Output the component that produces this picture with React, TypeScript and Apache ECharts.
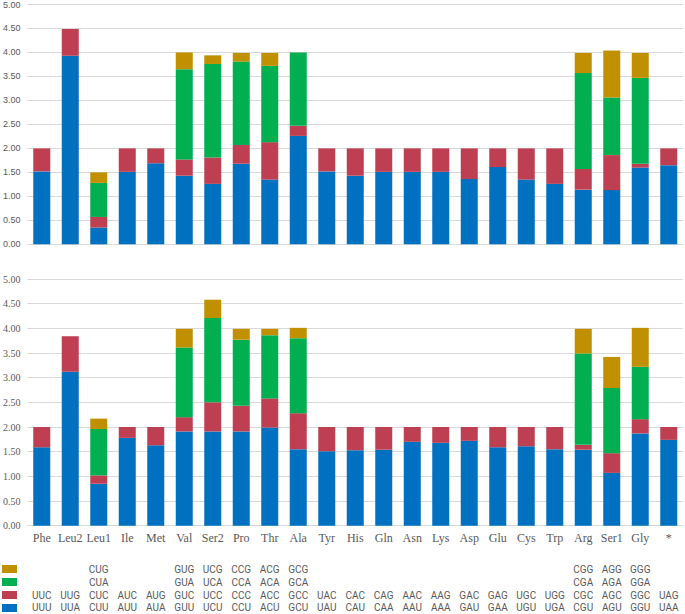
import React, { useEffect, useRef } from "react";
import * as echarts from "echarts";

const categories = ["Phe", "Leu2", "Leu1", "Ile", "Met", "Val", "Ser2", "Pro", "Thr", "Ala", "Tyr", "His", "Gln", "Asn", "Lys", "Asp", "Glu", "Cys", "Trp", "Arg", "Ser1", "Gly", "*"];

const yTicks = [0, 0.5, 1, 1.5, 2, 2.5, 3, 3.5, 4, 4.5, 5];

// Top chart (RSCU) per codon position
const top1 = [1.52, 3.93, 0.35, 1.51, 1.69, 1.43, 1.26, 1.68, 1.35, 2.26, 1.52, 1.43, 1.51, 1.51, 1.51, 1.36, 1.61, 1.35, 1.26, 1.14, 1.13, 1.60, 1.65];
const top2 = [0.48, 0.56, 0.22, 0.49, 0.31, 0.34, 0.55, 0.39, 0.78, 0.21, 0.48, 0.57, 0.49, 0.49, 0.49, 0.64, 0.39, 0.65, 0.74, 0.43, 0.73, 0.08, 0.35];
const top3 = [null, null, 0.71, null, null, 1.88, 1.95, 1.74, 1.59, 1.53, null, null, null, null, null, null, null, null, null, 2.00, 1.20, 1.79, null];
const top4 = [null, null, 0.22, null, null, 0.35, 0.18, 0.18, 0.27, null, null, null, null, null, null, null, null, null, null, 0.42, 0.98, 0.52, null];

// Bottom chart
const bot1 = [1.59, 3.12, 0.85, 1.78, 1.63, 1.91, 1.91, 1.91, 1.99, 1.55, 1.51, 1.53, 1.54, 1.70, 1.68, 1.72, 1.59, 1.61, 1.55, 1.54, 1.07, 1.87, 1.74];
const bot2 = [0.41, 0.72, 0.17, 0.22, 0.37, 0.29, 0.59, 0.52, 0.59, 0.73, 0.49, 0.47, 0.46, 0.30, 0.32, 0.28, 0.41, 0.39, 0.45, 0.10, 0.40, 0.29, 0.26];
const bot3 = [null, null, 0.94, null, null, 1.41, 1.71, 1.34, 1.28, 1.52, null, null, null, null, null, null, null, null, null, 1.85, 1.32, 1.06, null];
const bot4 = [null, null, 0.21, null, null, 0.38, 0.37, 0.22, 0.13, 0.21, null, null, null, null, null, null, null, null, null, 0.50, 0.63, 0.79, null];

// Codon table rows
const codon1 = ["UUU", "UUA", "CUU", "AUU", "AUA", "GUU", "UCU", "CCU", "ACU", "GCU", "UAU", "CAU", "CAA", "AAU", "AAA", "GAU", "GAA", "UGU", "UGA", "CGU", "AGU", "GGU", "UAA"];
const codon2 = ["UUC", "UUG", "CUC", "AUC", "AUG", "GUC", "UCC", "CCC", "ACC", "GCC", "UAC", "CAC", "CAG", "AAC", "AAG", "GAC", "GAG", "UGC", "UGG", "CGC", "AGC", "GGC", "UAG"];
const codon3 = ["", "", "CUA", "", "", "GUA", "UCA", "CCA", "ACA", "GCA", "", "", "", "", "", "", "", "", "", "CGA", "AGA", "GGA", ""];
const codon4 = ["", "", "CUG", "", "", "GUG", "UCG", "CCG", "ACG", "GCG", "", "", "", "", "", "", "", "", "", "CGG", "AGG", "GGG", ""];

const seriesNames = ["c1", "c2", "c3", "c4"];
const colors = ["#0070C0", "#BE3F52", "#00B050", "#C09000"];

export default function App() {
  const ref = useRef<HTMLDivElement>(null);
  useEffect(() => {
    if (!ref.current) return;
    const chart = echarts.init(ref.current, undefined, { renderer: "svg" });
    const gridColor = "#D9D9D9";
    const left = 27;
    const right = 2;
    const codonRows = [codon4, codon3, codon2, codon1];
    const codonCenters = [569.7, 582.5, 595.8, 607.8];
    const axisBottomY = 525.7;

    const yAxisBase = (font: string, size: number) => ({
      type: "value",
      min: 0,
      max: 5,
      interval: 0.5,
      axisLine: { show: false },
      axisTick: { show: false },
      splitLine: { lineStyle: { color: gridColor, width: 1 } },
      axisLabel: {
        formatter: (v: number) => v.toFixed(2),
        color: "#595959",
        fontFamily: font,
        fontSize: size,
        margin: 7,
        customValues: yTicks,
      },
    });

    const xAxes: any[] = [
      {
        type: "category",
        gridIndex: 0,
        data: categories,
        axisLine: { lineStyle: { color: gridColor } },
        axisTick: { show: false },
        axisLabel: { show: false },
      },
      {
        type: "category",
        gridIndex: 1,
        data: categories,
        axisLine: { lineStyle: { color: gridColor } },
        axisTick: { show: false },
        axisLabel: {
          interval: 0,
          color: "#595959",
          fontFamily: "Liberation Serif",
          fontSize: 12,
          margin: 12,
          verticalAlign: "middle",
        },
      },
    ];
    codonRows.forEach((row, i) => {
      xAxes.push({
        type: "category",
        gridIndex: 1,
        position: "bottom",
        offset: codonCenters[i] - axisBottomY,
        data: row,
        axisLine: { show: false },
        axisTick: { show: false },
        splitLine: { show: false },
        axisLabel: {
          interval: 0,
          color: "#595959",
          fontFamily: "Roboto",
          fontSize: 10,
          margin: 0,
          verticalAlign: "middle",
        },
      });
    });

    const topData = [top1, top2, top3, top4];
    const botData = [bot1, bot2, bot3, bot4];
    const series: any[] = [];
    topData.forEach((d, i) => {
      series.push({
        name: seriesNames[i],
        type: "bar",
        stack: "top",
        xAxisIndex: 0,
        yAxisIndex: 0,
        barWidth: 17,
        data: d,
        itemStyle: { color: colors[i] },
      });
    });
    botData.forEach((d, i) => {
      series.push({
        name: seriesNames[i],
        type: "bar",
        stack: "bottom",
        xAxisIndex: 1,
        yAxisIndex: 1,
        barWidth: 17,
        data: d,
        itemStyle: { color: colors[i] },
      });
    });

    chart.setOption({
      animation: false,
      backgroundColor: "#FFFFFF",
      legend: {
        orient: "vertical",
        left: 2,
        top: 565,
        padding: 0,
        itemWidth: 15,
        itemHeight: 8,
        itemGap: 5,
        icon: "rect",
        selectedMode: false,
        data: ["c4", "c3", "c2", "c1"],
        formatter: () => "",
        textStyle: { fontSize: 1 },
      },
      grid: [
        { left, right, top: 4.3, height: 240 },
        { left, right, top: 279, height: 246.7 },
      ],
      xAxis: xAxes,
      yAxis: [
        { ...yAxisBase("Liberation Sans", 9), gridIndex: 0 },
        { ...yAxisBase("Liberation Serif", 10), gridIndex: 1 },
      ],
      series,
    });
    return () => chart.dispose();
  }, []);
  return (
    <div
      ref={ref}
      style={{ position: "fixed", left: 0, top: 0, width: 685, height: 614 }}
    />
  );
}
